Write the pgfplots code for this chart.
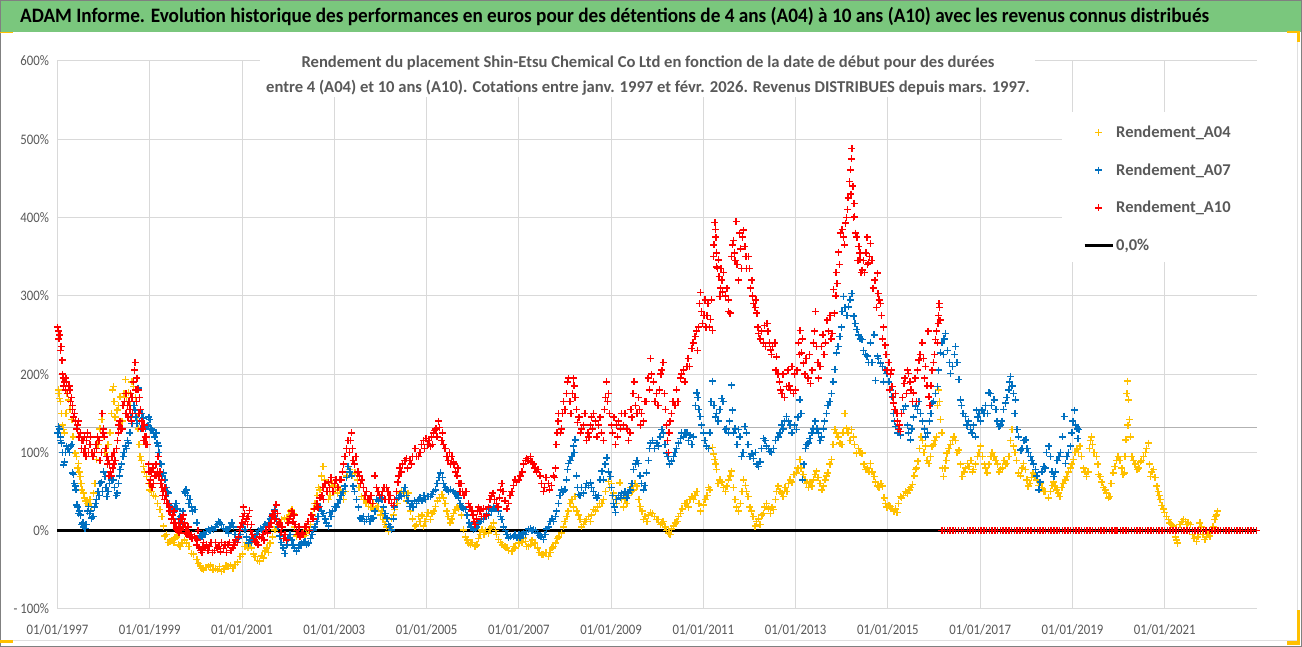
\documentclass[border=0pt]{standalone}
\usepackage{fontspec}
\usepackage{pgfplots}
\pgfplotsset{compat=1.18}
\setmainfont{Carlito}
\definecolor{bandgreen}{RGB}{122,199,125}
\definecolor{cA04}{RGB}{255,192,0}
\definecolor{cA07}{RGB}{0,112,192}
\definecolor{cA10}{RGB}{255,0,0}
\definecolor{txtgray}{RGB}{89,89,89}
\definecolor{gridgray}{RGB}{217,217,217}
\newcommand\tl[1]{\scalebox{.88}[1]{#1}}

\begin{document}
\begin{tikzpicture}[x=1pt,y=1pt]
\useasboundingbox (0,0) rectangle (1302,647);
\fill[white] (0,0) rectangle (1302,647);
% bandeau du titre
\fill[bandgreen] (0,615) rectangle (1302,646);
\draw[gray,line width=1pt] (0.5,0.5) rectangle (1301.5,646.5);
\draw[gray!25,line width=1pt] (0,6.5) -- (1297,6.5) -- (1297,615);
\fill[cA04] (0,614) rectangle (13,615);
\fill[cA04] (1287,614) rectangle (1300,616);
\fill[cA04] (1297,605) rectangle (1300,615);
\fill[cA04] (1287,2) rectangle (1300,6);
\fill[cA04] (1297,2) rectangle (1300,37);
\fill[cA04] (0,4) rectangle (13,7);
\node[anchor=west,inner sep=0pt,font=\fontsize{20.5}{24}\selectfont\bfseries] at (20,630.5)
  {\scalebox{.938}[1]{ADAM Informe. Evolution historique des performances en euros pour des détentions de 4 ans (A04) à 10 ans (A10) avec les revenus connus distribués}};

\begin{axis}[
  at={(57.5pt,38pt)}, anchor=south west,
  scale only axis, width=1199.5pt, height=548pt,
  xmin=1997, xmax=2023, ymin=-100, ymax=600,
  clip=false,
  axis x line*=bottom, axis y line*=left,
  axis line style={gridgray,line width=1pt,-},
  grid=major, grid style={gridgray,line width=1pt},
  major tick length=0pt,
  xtick={1997,1999,...,2021},
  xticklabels={\tl{01/01/1997},\tl{01/01/1999},\tl{01/01/2001},\tl{01/01/2003},\tl{01/01/2005},\tl{01/01/2007},\tl{01/01/2009},\tl{01/01/2011},\tl{01/01/2013},\tl{01/01/2015},\tl{01/01/2017},\tl{01/01/2019},\tl{01/01/2021}},
  ytick={-100,0,100,200,300,400,500,600},
  yticklabels={\tl{- 100\%},\tl{0\%},\tl{100\%},\tl{200\%},\tl{300\%},\tl{400\%},\tl{500\%},\tl{600\%}},
  tick label style={font=\fontsize{14.5}{16}\selectfont,text=txtgray},
  xticklabel style={yshift=-12pt},
  yticklabel style={xshift=-5pt},
  legend style={at={(axis cs:2019.23,520)},anchor=north west,draw=none,fill=none,
    font=\fontsize{16.5}{18}\selectfont\bfseries,text=txtgray,row sep=20.7pt,inner sep=0pt},
  legend cell align=left,
  legend image code/.code={\draw[mark repeat=2,mark phase=2,#1] plot coordinates {(0pt,0pt)(14pt,0pt)(28pt,0pt)};},
  only marks,
]
% caches blancs du sous-titre et de la legende
\fill[white] (axis cs:2001.39,554.3) rectangle (axis cs:2018.19,620);
\fill[white] (axis cs:2018.77,343.6) rectangle (axis cs:2023.1,535);
\node[align=center,text=txtgray,font=\fontsize{16.6}{25}\selectfont\bfseries] at (axis cs:2009.8,582)
  {Rendement du placement Shin-Etsu Chemical Co Ltd en fonction de la date de début pour des durées\\
   entre 4 (A04) et 10 ans (A10). Cotations entre janv. 1997 et févr. 2026. Revenus DISTRIBUES depuis mars. 1997.};

\addplot[forget plot,no marks,draw=gray!60,line width=1pt,sharp plot] coordinates {(1997,131.5)(2023,131.5)};
\addplot[forget plot,no marks,draw=black,line width=3pt,sharp plot] coordinates {(1997,0)(2023,0)};

\addplot[only marks,mark=+,color=cA04,mark size=3.5pt,line width=1.5pt,mark options={draw=cA04,fill=cA04}] coordinates {
(1997.02,180)(1997.04,169)(1997.13,129)(1997.24,167)(1997.31,142)(1997.38,99)(1997.45,86)(1997.49,69)(1997.56,48)(1997.64,35)
(1997.74,31)(1997.78,48)(1997.85,91)(1997.96,142)(1998.07,95)(1998.14,125)(1998.21,184)(1998.29,154)(1998.36,171)(1998.47,193)
(1998.54,176)(1998.65,184)(1998.72,146)(1998.79,95)(1998.86,82)(1998.93,69)(1999.00,52)(1999.12,44)(1999.22,27)(1999.30,6)
(1999.33,-7)(1999.44,-14)(1999.55,-9)(1999.66,-20)(1999.80,-16)(1999.91,-29)(2000.02,-37)(2000.13,-48)(2000.27,-46)(2000.42,-48)
(2000.56,-52)(2000.70,-46)(2000.85,-43)(2000.96,-33)(2001.06,-20)(2001.17,-16)(2001.28,-33)(2001.38,-39)(2001.50,-26)(2001.61,-16)
(2001.71,1)(2001.86,14)(2001.97,14)(2002.08,27)(2002.18,-7)(2002.29,-5)(2002.44,1)(2002.58,35)(2002.69,52)(2002.76,82)
(2002.87,40)(2002.98,57)(2003.12,52)(2003.20,40)(2003.30,82)(2003.45,74)(2003.59,44)(2003.74,31)(2003.95,31)(2004.06,14)
(2004.17,-1)(2004.31,27)(2004.42,48)(2004.60,48)(2004.75,6)(2004.82,18)(2004.93,6)(2005.03,23)(2005.08,14)(2005.19,31)
(2005.33,46)(2005.40,35)(2005.51,10)(2005.62,27)(2005.73,31)(2005.80,1)(2005.91,-16)(2006.05,-20)(2006.20,1)(2006.34,-3)
(2006.45,10)(2006.56,-11)(2006.70,-20)(2006.85,-26)(2007.00,-16)(2007.10,-9)(2007.21,-20)(2007.35,-16)(2007.50,-31)(2007.64,-33)
(2007.79,-16)(2007.93,-3)(2008.04,18)(2008.11,35)(2008.22,44)(2008.33,14)(2008.47,14)(2008.62,27)(2008.80,35)(2008.94,63)
(2009.05,48)(2009.19,61)(2009.34,35)(2009.48,52)(2009.56,57)(2009.63,31)(2009.70,14)(2009.85,23)(2009.99,14)(2010.13,12)
(2010.24,-3)(2010.35,6)(2010.46,18)(2010.60,35)(2010.75,44)(2010.86,50)(2011.00,33)(2011.14,52)(2011.20,106)(2011.25,91)
(2011.29,78)(2011.36,65)(2011.51,57)(2011.61,76)(2011.76,25)(2011.87,65)(2011.97,44)(2012.08,18)(2012.12,6)(2012.23,8)
(2012.37,35)(2012.52,27)(2012.62,57)(2012.73,44)(2012.88,65)(2013.02,74)(2013.09,91)(2013.20,65)(2013.35,57)(2013.45,76)
(2013.60,57)(2013.70,74)(2013.78,91)(2013.85,129)(2013.96,112)(2014.07,150)(2014.10,131)(2014.21,129)(2014.32,99)(2014.44,99)
(2014.52,78)(2014.62,86)(2014.70,69)(2014.77,57)(2014.88,57)(2014.95,35)(2015.06,31)(2015.20,23)(2015.27,44)(2015.42,48)
(2015.53,59)(2015.60,78)(2015.65,89)(2015.72,120)(2015.82,108)(2015.89,86)(2015.96,108)(2016.05,120)(2016.10,180)(2016.14,142)
(2016.21,69)(2016.28,99)(2016.43,120)(2016.54,103)(2016.61,69)(2016.72,86)(2016.86,78)(2017.01,108)(2017.15,74)(2017.30,95)
(2017.44,78)(2017.58,86)(2017.69,129)(2017.72,108)(2017.83,74)(2017.94,86)(2018.04,57)(2018.15,74)(2018.30,61)(2018.48,42)
(2018.62,57)(2018.73,44)(2018.88,69)(2019.02,91)(2019.16,108)(2019.30,69)(2019.41,120)(2019.52,95)(2019.60,69)(2019.74,48)
(2019.81,44)(2019.88,74)(2019.99,95)(2020.13,74)(2020.16,116)(2020.19,191)(2020.22,167)(2020.24,142)(2020.29,95)(2020.40,78)
(2020.54,95)(2020.65,112)(2020.69,69)(2020.76,78)(2020.83,57)(2020.90,40)(2021.00,23)(2021.08,14)(2021.19,6)(2021.28,-16)
(2021.37,12)(2021.51,10)(2021.69,-14)(2021.76,10)(2021.87,-11)(2021.98,-7)(2022.09,14)(2022.14,25)
(1997.03,175)(1997.06,165)(1997.09,150)(1997.11,135)(1997.15,125)(1997.18,150)(1997.21,175)(1997.27,155)(1997.34,120)(1997.41,95)(1997.43,80)(1997.47,75)(1997.51,60)(1997.53,52)(1997.59,42)(1997.61,38)(1997.67,33)(1997.70,40)(1997.81,60)(1997.88,110)(1997.92,130)(1998.00,120)(1998.03,100)(1998.10,110)(1998.17,150)(1998.19,180)(1998.23,165)(1998.25,145)(1998.32,160)(1998.40,140)(1998.44,175)(1998.50,170)(1998.58,160)(1998.61,190)(1998.69,170)(1998.75,130)(1998.77,110)(1998.82,90)(1998.89,75)(1998.97,60)(1999.04,50)(1999.08,45)(1999.17,35)(1999.26,18)(1999.36,-5)(1999.40,-15)(1999.48,-12)(1999.52,-15)(1999.59,-8)(1999.62,-18)(1999.70,-15)(1999.75,-12)(1999.85,-20)(1999.95,-30)(2000.05,-42)(2000.09,-45)(2000.17,-50)(2000.22,-47)(2000.32,-44)(2000.37,-50)(2000.47,-50)(2000.51,-46)(2000.61,-49)(2000.65,-45)(2000.75,-44)(2000.80,-48)(2000.90,-40)(2001.01,-30)(2001.10,-15)(2001.13,-22)(2001.21,-22)(2001.25,-30)(2001.33,-38)(2001.43,-32)(2001.46,-35)(2001.54,-22)(2001.57,-28)(2001.66,-8)(2001.75,5)(2001.80,12)(2001.92,16)
(2002.02,20)(2002.05,25)(2002.11,22)(2002.14,5)(2002.22,-3)(2002.25,-8)(2002.33,-2)(2002.37,-6)(2002.40,-3)(2002.48,8)(2002.52,20)(2002.55,28)(2002.63,45)(2002.66,55)(2002.72,70)(2002.79,65)(2002.83,50)(2002.91,45)(2002.95,60)(2003.03,55)(2003.07,48)(2003.16,48)(2003.24,50)(2003.27,70)(2003.34,78)(2003.38,70)(2003.50,65)(2003.54,55)(2003.64,40)(2003.69,35)(2003.80,30)(2003.85,35)(2003.90,28)(2004.00,20)(2004.03,25)(2004.10,8)(2004.13,5)(2004.20,3)(2004.24,15)(2004.28,20)(2004.36,35)(2004.39,42)(2004.46,50)(2004.52,45)(2004.56,38)(2004.65,25)(2004.70,15)(2004.78,8)(2004.86,12)(2004.90,20)(2004.97,12)(2005.00,18)
(2005.12,22)(2005.16,25)(2005.24,38)(2005.28,42)(2005.37,42)(2005.44,25)(2005.47,18)(2005.55,15)(2005.58,22)(2005.66,30)(2005.69,28)(2005.76,20)(2005.84,-8)(2005.88,-12)(2005.95,-18)(2005.99,-15)(2006.09,-18)(2006.13,-10)(2006.16,-5)(2006.24,-5)(2006.28,0)(2006.38,3)(2006.41,5)(2006.49,0)(2006.52,-5)(2006.60,-15)(2006.64,-18)(2006.74,-22)(2006.78,-25)(2006.89,-20)(2006.93,-22)(2007.04,-12)(2007.07,-15)(2007.14,-14)(2007.17,-20)(2007.25,-18)(2007.29,-12)(2007.40,-22)(2007.44,-28)(2007.54,-30)(2007.59,-28)(2007.68,-28)(2007.72,-22)(2007.75,-20)(2007.83,-10)(2007.87,-8)(2007.97,5)(2008.00,12)(2008.07,25)(2008.15,40)(2008.18,30)(2008.26,25)(2008.29,20)(2008.36,5)(2008.40,8)(2008.43,12)(2008.51,18)(2008.55,12)(2008.58,20)(2008.66,25)(2008.70,30)(2008.75,35)(2008.84,40)(2008.88,50)(2008.97,55)(2009.01,60)(2009.09,40)(2009.12,35)(2009.16,45)(2009.23,40)(2009.27,30)(2009.30,40)(2009.38,45)(2009.42,55)(2009.45,50)(2009.52,60)(2009.60,40)(2009.67,25)(2009.74,18)(2009.78,12)(2009.81,20)(2009.90,22)(2009.94,18)(2010.03,14)(2010.07,8)(2010.10,10)(2010.17,5)(2010.20,0)(2010.28,-5)(2010.31,2)(2010.39,10)(2010.43,12)(2010.50,22)(2010.54,28)(2010.64,35)(2010.68,30)(2010.71,40)(2010.79,40)(2010.82,45)(2010.90,35)(2010.94,25)
(2011.04,40)(2011.08,45)(2011.11,55)(2011.22,98)(2011.27,85)(2011.32,60)(2011.40,62)(2011.44,55)(2011.48,50)(2011.55,65)(2011.58,70)(2011.65,55)(2011.69,40)(2011.72,30)(2011.80,35)(2011.84,50)(2011.91,58)(2011.94,50)(2012.01,30)(2012.04,25)(2012.15,12)(2012.19,15)(2012.27,20)(2012.30,22)(2012.33,30)(2012.41,28)(2012.45,22)(2012.49,30)(2012.56,40)(2012.59,50)(2012.66,50)(2012.70,48)(2012.77,55)(2012.81,50)(2012.85,60)(2012.92,62)(2012.96,72)(2013.05,80)(2013.12,80)(2013.16,72)(2013.24,60)(2013.28,55)(2013.31,62)(2013.39,65)(2013.42,72)(2013.49,68)(2013.53,60)(2013.57,52)(2013.64,65)(2013.67,70)(2013.74,85)(2013.81,110)(2013.89,125)(2013.92,120)(2014.00,110)(2014.03,125)(2014.14,125)(2014.18,115)(2014.25,120)(2014.28,110)(2014.36,105)(2014.40,100)(2014.48,85)(2014.56,80)(2014.59,75)(2014.66,75)(2014.73,62)(2014.81,55)(2014.85,60)(2014.92,42)(2014.98,30)(2015.02,32)(2015.09,28)(2015.13,25)(2015.17,28)(2015.23,35)(2015.30,42)(2015.34,45)(2015.38,50)(2015.46,52)(2015.50,55)(2015.57,70)(2015.62,80)(2015.68,105)(2015.75,115)(2015.78,100)(2015.85,90)(2015.92,95)(2015.99,110)(2016.02,115)(2016.08,160)(2016.12,165)(2016.17,125)(2016.18,80)(2016.24,80)(2016.26,90)(2016.32,105)(2016.36,110)(2016.40,115)(2016.47,115)(2016.50,100)(2016.57,85)(2016.65,75)(2016.68,80)(2016.76,82)(2016.80,90)(2016.83,75)(2016.90,85)(2016.94,95)(2016.98,100)
(2017.05,95)(2017.09,85)(2017.12,80)(2017.19,85)(2017.23,95)(2017.26,100)(2017.34,90)(2017.38,85)(2017.41,75)(2017.48,80)(2017.52,90)(2017.55,85)(2017.62,95)(2017.66,115)(2017.75,100)(2017.79,90)(2017.87,70)(2017.91,80)(2017.98,78)(2018.01,65)(2018.08,60)(2018.11,68)(2018.19,70)(2018.23,65)(2018.27,58)(2018.34,55)(2018.38,50)(2018.42,50)(2018.52,50)(2018.56,58)(2018.59,62)(2018.66,52)(2018.69,48)(2018.77,55)(2018.80,60)(2018.84,65)(2018.92,75)(2018.96,80)(2018.99,85)(2019.06,100)(2019.10,105)(2019.13,100)(2019.20,95)(2019.24,80)(2019.27,75)(2019.34,75)(2019.37,105)(2019.39,115)(2019.44,110)(2019.47,100)(2019.55,85)(2019.57,72)(2019.64,62)(2019.67,55)(2019.71,52)(2019.78,42)(2019.84,60)(2019.92,82)(2019.96,90)(2020.03,90)(2020.07,80)(2020.10,72)(2020.14,95)(2020.18,175)(2020.20,135)(2020.26,120)(2020.32,90)(2020.36,85)(2020.44,80)(2020.47,88)(2020.50,90)(2020.58,100)(2020.61,105)(2020.67,85)(2020.72,75)(2020.79,68)(2020.86,50)(2020.88,45)(2020.94,32)(2020.97,28)(2021.04,18)(2021.11,10)(2021.15,8)(2021.23,-8)(2021.26,-12)(2021.33,8)(2021.41,14)(2021.45,12)(2021.48,8)(2021.56,8)(2021.60,-5)(2021.64,-10)(2021.72,-8)(2021.80,5)(2021.83,-5)(2021.91,-8)(2021.94,-3)(2022.02,0)(2022.05,5)(2022.11,18)(2022.12,20)
};
\addlegendentry{Rendement\_A04}

\addplot[only marks,mark=+,color=cA07,mark size=3.5pt,line width=1.5pt,mark options={draw=cA07,fill=cA07}] coordinates {
(1997.04,130)(1997.09,112)(1997.13,84)(1997.20,108)(1997.31,110)(1997.33,74)(1997.38,57)(1997.42,33)(1997.48,25)(1997.53,8)
(1997.60,3)(1997.67,31)(1997.74,16)(1997.85,40)(1997.92,60)(1998.03,69)(1998.07,44)(1998.18,65)(1998.29,48)(1998.36,78)
(1998.47,108)(1998.54,112)(1998.61,137)(1998.68,154)(1998.72,137)(1998.75,182)(1998.86,144)(1998.93,133)(1999.00,142)(1999.08,125)
(1999.19,108)(1999.22,86)(1999.30,74)(1999.40,48)(1999.51,23)(1999.58,35)(1999.69,12)(1999.79,52)(1999.87,40)(1999.98,27)
(2000.09,-7)(2000.23,-1)(2000.38,1)(2000.52,10)(2000.67,1)(2000.78,10)(2000.88,-11)(2001.06,1)(2001.14,-16)(2001.28,-7)
(2001.43,1)(2001.53,6)(2001.64,18)(2001.71,27)(2001.82,-7)(2001.93,-29)(2002.04,-5)(2002.18,-26)(2002.29,-16)(2002.44,-16)
(2002.55,1)(2002.62,12)(2002.69,31)(2002.87,6)(2002.90,23)(2003.01,31)(2003.12,40)(2003.23,57)(2003.30,82)(2003.41,57)
(2003.48,40)(2003.56,16)(2003.70,14)(2003.84,16)(2003.92,40)(2004.03,40)(2004.14,16)(2004.24,1)(2004.35,40)(2004.46,44)
(2004.53,55)(2004.64,31)(2004.78,35)(2005.03,44)(2005.08,44)(2005.19,52)(2005.30,74)(2005.40,55)(2005.62,48)(2005.73,35)
(2005.84,27)(2006.02,1)(2006.23,14)(2006.41,25)(2006.52,31)(2006.63,14)(2006.78,-9)(2006.88,-7)(2007.03,-9)(2007.17,-1)
(2007.32,1)(2007.53,-11)(2007.68,12)(2007.79,18)(2007.86,35)(2007.93,52)(2008.00,52)(2008.08,86)(2008.15,95)(2008.18,108)
(2008.22,116)(2008.29,46)(2008.40,48)(2008.55,61)(2008.69,42)(2008.80,76)(2008.91,93)(2008.98,69)(2009.05,35)(2009.09,23)
(2009.23,48)(2009.38,48)(2009.49,78)(2009.59,86)(2009.70,52)(2009.77,74)(2009.85,112)(2009.99,112)(2010.10,129)(2010.20,99)
(2010.31,89)(2010.46,112)(2010.60,125)(2010.75,110)(2010.86,176)(2010.93,146)(2011.00,125)(2011.07,108)(2011.20,191)(2011.29,150)
(2011.40,169)(2011.47,129)(2011.61,186)(2011.63,154)(2011.76,129)(2011.83,95)(2011.90,133)(2012.01,95)(2012.19,82)(2012.30,118)
(2012.44,101)(2012.62,120)(2012.80,146)(2013.02,129)(2013.09,167)(2013.15,65)(2013.27,112)(2013.42,140)(2013.56,120)(2013.67,150)
(2013.74,165)(2013.85,206)(2013.89,227)(2013.96,248)(2014.04,299)(2014.15,286)(2014.22,303)(2014.26,274)(2014.33,257)(2014.44,244)
(2014.55,223)(2014.70,250)(2014.73,192)(2014.77,223)(2014.84,214)(2014.98,201)(2015.09,171)(2015.17,133)(2015.27,122)(2015.38,159)
(2015.49,116)(2015.60,159)(2015.71,150)(2015.82,120)(2015.96,163)(2016.07,184)(2016.14,227)(2016.25,252)(2016.36,201)(2016.47,235)
(2016.54,193)(2016.57,167)(2016.68,146)(2016.79,129)(2016.90,120)(2016.92,154)(2017.04,154)(2017.19,176)(2017.30,167)(2017.41,133)
(2017.55,163)(2017.66,197)(2017.77,167)(2017.80,129)(2017.88,103)(2017.99,116)(2018.09,95)(2018.20,78)(2018.27,52)(2018.38,82)
(2018.49,108)(2018.60,69)(2018.71,95)(2018.82,146)(2018.85,86)(2018.96,108)(2019.04,154)(2019.14,129)
(1997.01,125)(1997.02,133)(1997.06,120)(1997.07,115)(1997.11,100)(1997.15,88)(1997.17,100)(1997.23,105)(1997.26,100)(1997.28,108)(1997.35,72)(1997.36,60)(1997.40,52)(1997.44,30)(1997.46,22)(1997.50,20)(1997.55,10)(1997.57,5)(1997.62,8)(1997.65,25)(1997.69,22)(1997.72,25)(1997.77,18)(1997.80,30)(1997.83,35)(1997.88,50)(1997.90,45)(1997.95,62)(1997.98,50)(1998.00,75)(1998.05,55)(1998.10,50)(1998.13,60)(1998.15,70)(1998.21,65)(1998.24,55)(1998.27,45)(1998.32,60)(1998.34,70)(1998.39,85)(1998.42,95)(1998.44,100)(1998.50,105)(1998.52,115)(1998.57,125)(1998.59,145)(1998.63,150)(1998.66,160)(1998.70,145)(1998.78,140)(1998.81,130)(1998.83,150)(1998.89,135)(1998.91,130)(1998.96,135)(1998.98,145)(1999.03,130)(1999.05,128)(1999.11,120)(1999.14,125)(1999.16,112)(1999.20,100)(1999.25,85)(1999.27,70)(1999.33,65)(1999.36,55)(1999.38,50)(1999.43,35)(1999.46,30)(1999.49,28)(1999.54,30)(1999.56,35)(1999.60,28)(1999.63,15)(1999.66,18)(1999.72,25)(1999.75,50)(1999.77,48)(1999.82,45)(1999.85,35)(1999.90,30)(1999.93,25)
(2000.02,10)(2000.05,0)(2000.13,-8)(2000.17,-3)(2000.20,-5)(2000.27,2)(2000.31,0)(2000.34,3)(2000.42,5)(2000.46,8)(2000.49,12)(2000.56,8)(2000.60,3)(2000.64,2)(2000.71,-3)(2000.74,5)(2000.82,5)(2000.85,-5)(2000.92,-10)(2000.96,-5)(2001.01,5)(2001.03,8)(2001.10,-8)(2001.17,-12)(2001.21,-15)(2001.25,-10)(2001.32,-5)(2001.36,0)(2001.40,3)(2001.47,5)(2001.50,8)(2001.57,10)(2001.61,15)(2001.67,22)(2001.75,15)(2001.78,5)(2001.85,-15)(2001.89,-22)(2001.97,-18)(2002.00,-10)(2002.08,-12)(2002.11,-18)(2002.14,-22)(2002.22,-22)(2002.26,-18)(2002.33,-15)(2002.37,-14)(2002.40,-18)(2002.48,-10)(2002.52,-5)(2002.58,5)(2002.65,18)(2002.72,25)(2002.76,22)(2002.80,15)(2002.83,10)(2002.93,18)(2002.96,25)(2003.05,30)(2003.08,35)(2003.15,45)(2003.19,50)(2003.26,68)(2003.34,75)(2003.37,70)(2003.44,50)(2003.52,30)(2003.60,15)(2003.63,18)(2003.66,12)(2003.74,18)(2003.77,12)(2003.80,15)(2003.88,25)(2003.96,38)(2004.00,42)(2004.07,30)(2004.10,22)(2004.18,8)(2004.21,5)(2004.28,15)(2004.31,30)(2004.39,42)(2004.42,45)(2004.50,50)(2004.57,45)(2004.60,38)(2004.68,35)(2004.71,30)(2004.74,38)(2004.82,40)(2004.86,42)(2004.90,38)(2004.94,45)(2004.98,40)
(2005.12,46)(2005.15,50)(2005.23,60)(2005.27,68)(2005.34,68)(2005.37,60)(2005.44,52)(2005.48,50)(2005.52,52)(2005.58,50)(2005.66,45)(2005.69,42)(2005.77,30)(2005.80,28)(2005.88,20)(2005.92,10)(2005.96,5)(2006.06,3)(2006.09,5)(2006.12,10)(2006.16,12)(2006.19,15)(2006.27,18)(2006.30,22)(2006.34,20)(2006.38,28)(2006.45,30)(2006.48,28)(2006.56,25)(2006.60,18)(2006.67,5)(2006.71,0)(2006.74,-5)(2006.82,-8)(2006.92,-5)(2006.96,-9)(2007.00,-5)(2007.07,-5)(2007.10,-3)(2007.14,-5)(2007.21,2)(2007.25,3)(2007.29,0)(2007.36,0)(2007.40,-3)(2007.44,-6)(2007.48,-8)(2007.57,-5)(2007.60,2)(2007.64,5)(2007.72,15)(2007.75,12)(2007.82,25)(2007.89,45)(2007.96,50)(2008.03,65)(2008.05,78)(2008.11,90)(2008.20,100)(2008.25,70)(2008.27,55)(2008.33,45)(2008.36,55)(2008.44,55)(2008.47,60)(2008.51,58)(2008.58,55)(2008.62,50)(2008.66,45)(2008.73,45)(2008.76,65)(2008.84,65)(2008.87,85)(2008.94,75)(2009.01,55)(2009.03,45)(2009.07,30)(2009.12,40)(2009.16,45)(2009.20,42)(2009.27,45)(2009.30,50)(2009.34,42)(2009.41,52)(2009.45,60)(2009.53,85)(2009.56,90)(2009.63,70)(2009.66,60)(2009.73,58)(2009.81,90)(2009.83,105)(2009.90,115)(2009.94,105)(2010.03,108)(2010.06,120)(2010.14,125)(2010.17,110)(2010.23,95)(2010.27,85)(2010.35,95)(2010.38,100)(2010.42,105)(2010.50,118)(2010.53,125)(2010.57,120)(2010.64,125)(2010.68,115)(2010.71,122)(2010.79,120)(2010.83,160)(2010.88,170)(2010.90,155)(2010.96,135)
(2011.03,115)(2011.11,105)(2011.14,125)(2011.17,165)(2011.23,160)(2011.26,145)(2011.32,140)(2011.36,155)(2011.43,165)(2011.50,130)(2011.54,125)(2011.57,140)(2011.65,125)(2011.69,130)(2011.73,110)(2011.79,120)(2011.86,100)(2011.93,125)(2011.97,110)(2012.05,98)(2012.09,92)(2012.13,100)(2012.16,85)(2012.23,88)(2012.26,105)(2012.34,115)(2012.37,108)(2012.41,105)(2012.48,100)(2012.52,105)(2012.56,115)(2012.66,125)(2012.70,135)(2012.73,130)(2012.76,140)(2012.84,140)(2012.88,135)(2012.92,125)(2012.97,135)(2013.05,145)(2013.12,150)(2013.18,85)(2013.21,105)(2013.24,110)(2013.31,118)(2013.35,125)(2013.38,130)(2013.46,130)(2013.50,125)(2013.53,115)(2013.60,130)(2013.63,140)(2013.70,160)(2013.78,175)(2013.81,190)(2013.92,235)(2013.99,260)(2014.01,280)(2014.07,285)(2014.11,275)(2014.18,295)(2014.29,265)(2014.36,250)(2014.40,245)(2014.47,230)(2014.51,225)(2014.58,215)(2014.62,240)(2014.66,215)(2014.80,220)(2014.88,210)(2014.91,190)(2014.94,205)(2015.02,190)(2015.05,180)(2015.12,150)(2015.14,140)(2015.21,125)(2015.24,130)(2015.30,150)(2015.34,155)(2015.42,135)(2015.45,125)(2015.52,130)(2015.56,145)(2015.64,155)(2015.67,165)(2015.75,140)(2015.79,130)(2015.86,125)(2015.90,140)(2015.93,150)(2015.99,165)(2016.03,175)(2016.10,205)(2016.17,240)(2016.20,225)(2016.22,245)(2016.29,230)(2016.33,215)(2016.40,210)(2016.44,225)(2016.50,215)(2016.60,160)(2016.63,150)(2016.71,135)(2016.75,140)(2016.82,125)(2016.86,135)(2016.95,145)(2016.98,150)
(2017.01,140)(2017.08,150)(2017.12,160)(2017.16,150)(2017.22,175)(2017.25,160)(2017.34,155)(2017.37,140)(2017.44,135)(2017.47,140)(2017.51,155)(2017.58,170)(2017.62,180)(2017.64,190)(2017.69,185)(2017.72,175)(2017.75,150)(2017.83,120)(2017.91,105)(2017.95,115)(2018.02,105)(2018.05,100)(2018.12,90)(2018.16,85)(2018.23,70)(2018.30,62)(2018.34,75)(2018.41,80)(2018.44,100)(2018.52,95)(2018.56,75)(2018.63,75)(2018.67,90)(2018.74,100)(2018.78,120)(2018.88,95)(2018.92,100)(2018.99,125)(2019.01,140)(2019.07,135)(2019.10,130)(2019.12,118)
};
\addlegendentry{Rendement\_A07}

\addplot[only marks,mark=+,color=cA10,mark size=3.5pt,line width=1.5pt,mark options={draw=cA10,fill=cA10}] coordinates {
(1997.00,260)(1997.05,250)(1997.08,235)(1997.10,218)(1997.11,200)(1997.15,190)(1997.20,190)(1997.25,185)(1997.30,170)(1997.33,160)
(1997.37,150)(1997.42,130)(1997.45,140)(1997.50,125)(1997.55,115)(1997.60,105)(1997.65,125)(1997.70,110)(1997.80,100)(1997.90,115)
(1997.95,100)(1997.97,150)(1998.00,130)(1998.05,105)(1998.10,90)(1998.15,75)(1998.20,80)(1998.25,90)(1998.28,105)(1998.30,115)
(1998.33,135)(1998.40,130)(1998.45,165)(1998.50,150)(1998.55,165)(1998.60,140)(1998.65,190)(1998.68,215)(1998.72,195)(1998.75,180)
(1998.80,155)(1998.85,130)(1998.90,120)(1998.95,110)(1998.98,75)(1999.00,60)(1999.05,55)(1999.10,70)(1999.15,85)(1999.20,70)
(1999.25,65)(1999.30,50)(1999.35,45)(1999.40,35)(1999.45,25)(1999.50,20)(1999.55,10)(1999.60,0)(1999.65,5)(1999.70,15)
(1999.75,10)(1999.80,0)(1999.85,-3)(1999.90,-5)(2000.00,-10)(2000.05,0)(2000.10,-25)(2000.20,-22)(2000.30,-20)(2000.40,-25)
(2000.50,-20)(2000.60,-23)(2000.70,-18)(2000.80,-22)(2000.90,-15)(2000.95,0)(2001.00,10)(2001.03,30)(2001.10,15)(2001.16,26)
(2001.22,-5)(2001.32,-15)(2001.42,-10)(2001.52,0)(2001.60,5)(2001.67,20)(2001.74,33)(2001.82,10)(2001.90,-10)(2002.00,10)
(2002.08,25)(2002.18,0)(2002.26,-8)(2002.40,5)(2002.50,20)(2002.62,35)(2002.73,45)(2002.80,60)(2002.90,55)(2003.00,60)
(2003.12,65)(2003.20,85)(2003.30,115)(2003.33,100)(2003.37,125)(2003.41,90)(2003.52,75)(2003.60,65)(2003.67,45)(2003.77,40)
(2003.88,70)(2003.92,55)(2004.02,45)(2004.13,55)(2004.24,35)(2004.35,50)(2004.42,80)(2004.53,90)(2004.64,90)(2004.75,105)
(2004.82,95)(2004.93,115)(2005.03,110)(2005.08,108)(2005.15,125)(2005.20,130)(2005.26,140)(2005.33,115)(2005.37,110)(2005.44,95)
(2005.55,95)(2005.60,85)(2005.66,70)(2005.70,60)(2005.73,50)(2005.84,50)(2005.91,35)(2005.98,25)(2006.05,8)(2006.16,25)
(2006.30,20)(2006.41,45)(2006.52,35)(2006.63,60)(2006.78,35)(2006.92,65)(2007.03,70)(2007.14,90)(2007.25,95)(2007.35,80)
(2007.46,70)(2007.53,50)(2007.64,60)(2007.79,80)(2007.81,110)(2007.83,125)(2007.86,150)(2007.93,130)(2007.97,165)(2008.08,195)
(2008.18,195)(2008.22,170)(2008.29,145)(2008.36,130)(2008.47,115)(2008.55,135)(2008.62,150)(2008.73,135)(2008.83,115)(2008.88,170)
(2008.90,190)(2008.94,175)(2009.01,135)(2009.09,110)(2009.16,140)(2009.30,150)(2009.38,115)(2009.45,145)(2009.50,190)(2009.59,170)
(2009.66,150)(2009.77,165)(2009.85,220)(2009.92,190)(2010.02,160)(2010.13,215)(2010.20,135)(2010.24,100)(2010.28,140)(2010.39,160)
(2010.50,195)(2010.64,210)(2010.75,233)(2010.82,248)(2010.89,260)(2010.92,290)(2010.94,304)(2011.04,295)(2011.06,260)(2011.18,295)
(2011.20,256)(2011.25,394)(2011.27,375)(2011.29,337)(2011.33,346)(2011.36,299)(2011.40,320)(2011.54,295)(2011.58,278)(2011.65,371)
(2011.71,395)(2011.76,320)(2011.87,384)(2011.90,363)(2011.98,350)(2012.05,320)(2012.09,290)(2012.16,278)(2012.20,252)(2012.30,240)
(2012.38,265)(2012.45,231)(2012.59,222)(2012.62,200)(2012.70,175)(2012.80,184)(2012.92,210)(2013.00,180)(2013.10,256)(2013.13,227)
(2013.17,214)(2013.32,188)(2013.43,280)(2013.45,235)(2013.53,210)(2013.68,269)(2013.79,252)(2013.82,308)(2013.84,278)(2013.90,316)
(2013.93,356)(2013.97,380)(2014.08,393)(2014.12,410)(2014.17,446)(2014.19,461)(2014.22,488)(2014.27,418)(2014.28,401)(2014.30,380)
(2014.37,363)(2014.40,346)(2014.44,333)(2014.55,375)(2014.58,342)(2014.62,367)(2014.77,329)(2014.79,303)(2014.84,290)(2014.91,260)
(2014.94,237)(2015.02,215)(2015.06,200)(2015.09,184)(2015.12,163)(2015.20,150)(2015.23,129)(2015.27,127)(2015.35,188)(2015.45,201)
(2015.50,180)(2015.56,176)(2015.67,218)(2015.74,240)(2015.82,210)(2015.89,171)(2015.96,205)(2016.03,244)(2016.07,240)(2016.11,290)
(2016.13,269)
(1997.02,255)(1997.03,245)(1997.06,230)(1997.12,195)(1997.13,185)(1997.17,180)(1997.18,195)(1997.22,175)(1997.27,180)(1997.28,165)(1997.32,155)(1997.35,145)(1997.39,140)(1997.43,135)(1997.47,120)(1997.52,105)(1997.53,115)(1997.57,100)(1997.58,120)(1997.62,95)(1997.63,115)(1997.67,100)(1997.72,120)(1997.75,100)(1997.77,95)(1997.83,110)(1997.85,105)(1997.87,120)(1997.92,90)(1997.99,125)(1998.02,120)(1998.07,95)(1998.08,85)(1998.12,70)(1998.13,85)(1998.17,70)(1998.18,95)(1998.22,85)(1998.23,100)(1998.32,125)(1998.35,140)(1998.37,130)(1998.42,160)(1998.47,150)(1998.48,175)(1998.52,160)(1998.53,145)(1998.57,155)(1998.58,175)(1998.62,170)(1998.63,150)(1998.67,205)(1998.70,180)(1998.71,165)(1998.77,150)(1998.78,170)(1998.82,130)(1998.83,140)(1998.87,115)(1998.88,135)(1998.92,110)(1998.93,120)(1998.97,85)
(1999.02,65)(1999.03,75)(1999.07,80)(1999.08,60)(1999.12,85)(1999.13,70)(1999.17,75)(1999.18,95)(1999.22,75)(1999.23,60)(1999.27,55)(1999.28,45)(1999.32,40)(1999.33,55)(1999.37,35)(1999.42,25)(1999.43,30)(1999.47,15)(1999.52,10)(1999.53,25)(1999.57,2)(1999.58,5)(1999.62,10)(1999.63,-2)(1999.67,15)(1999.68,0)(1999.72,5)(1999.73,20)(1999.77,5)(1999.78,-3)(1999.82,-5)(1999.83,5)(1999.87,-8)(1999.92,-10)(1999.97,-8)(2000.02,-18)(2000.03,-12)(2000.07,-22)(2000.13,-28)(2000.15,-20)(2000.17,-15)(2000.23,-18)(2000.26,-25)(2000.33,-15)(2000.36,-28)(2000.43,-15)(2000.46,-22)(2000.53,-27)(2000.56,-15)(2000.63,-18)(2000.66,-28)(2000.73,-15)(2000.76,-25)(2000.83,-18)(2000.86,-12)(2000.92,-8)(2000.97,5)(2001.02,18)(2001.05,22)(2001.07,12)(2001.12,8)(2001.13,18)(2001.18,0)(2001.20,8)(2001.25,-10)(2001.28,-14)(2001.35,-18)(2001.38,-8)(2001.45,-5)(2001.48,-12)(2001.55,-3)(2001.57,5)(2001.63,10)(2001.65,18)(2001.70,25)(2001.72,15)(2001.77,22)(2001.78,8)(2001.85,-2)(2001.87,5)(2001.93,-5)(2001.96,-12)
(2002.03,15)(2002.05,18)(2002.11,12)(2002.13,20)(2002.15,8)(2002.21,-5)(2002.23,5)(2002.30,-3)(2002.33,-5)(2002.36,5)(2002.43,12)(2002.46,0)(2002.54,15)(2002.57,28)(2002.65,30)(2002.69,42)(2002.76,55)(2002.77,40)(2002.84,50)(2002.87,62)(2002.93,68)(2002.97,50)(2003.04,65)(2003.08,55)(2003.16,65)(2003.18,75)(2003.23,95)(2003.26,105)(2003.35,115)(2003.39,105)(2003.44,85)(2003.47,95)(2003.50,75)(2003.55,70)(2003.57,60)(2003.63,55)(2003.70,50)(2003.73,40)(2003.80,45)(2003.83,35)(2003.95,50)(2003.98,45)(2004.05,50)(2004.08,55)(2004.10,40)(2004.16,50)(2004.19,40)(2004.21,45)(2004.28,32)(2004.31,40)(2004.38,62)(2004.40,70)(2004.45,75)(2004.48,85)(2004.56,92)(2004.59,80)(2004.67,85)(2004.70,95)(2004.78,95)(2004.86,100)(2004.89,110)(2004.96,105)(2004.99,118)
(2005.05,115)(2005.11,120)(2005.13,110)(2005.18,128)(2005.23,120)(2005.28,132)(2005.35,125)(2005.40,105)(2005.47,90)(2005.50,100)(2005.52,85)(2005.58,88)(2005.63,75)(2005.68,80)(2005.75,60)(2005.78,50)(2005.81,45)(2005.87,50)(2005.94,30)(2006.01,20)(2006.03,12)(2006.08,15)(2006.10,25)(2006.13,30)(2006.19,18)(2006.23,28)(2006.26,18)(2006.34,30)(2006.37,40)(2006.44,48)(2006.47,40)(2006.55,30)(2006.58,42)(2006.60,52)(2006.66,50)(2006.70,38)(2006.74,28)(2006.81,45)(2006.85,50)(2006.88,58)(2006.95,62)(2007.00,65)(2007.07,75)(2007.10,85)(2007.17,92)(2007.20,90)(2007.28,88)(2007.31,85)(2007.38,75)(2007.42,78)(2007.49,60)(2007.56,55)(2007.59,68)(2007.67,52)(2007.71,58)(2007.75,70)(2007.77,68)(2007.85,140)(2007.90,125)(2007.95,150)(2008.00,155)(2008.03,175)(2008.06,190)(2008.11,165)(2008.13,150)(2008.16,175)(2008.20,185)(2008.25,155)(2008.27,138)(2008.32,145)(2008.34,125)(2008.40,135)(2008.43,150)(2008.50,125)(2008.52,120)(2008.58,145)(2008.60,130)(2008.66,140)(2008.69,120)(2008.76,145)(2008.79,125)(2008.86,155)(2008.92,165)(2008.97,150)(2009.03,125)(2009.06,145)(2009.12,135)(2009.14,120)(2009.20,130)(2009.22,150)(2009.27,135)(2009.34,130)(2009.41,125)(2009.43,155)(2009.48,175)(2009.53,160)(2009.56,150)(2009.62,155)(2009.64,135)(2009.70,140)(2009.73,165)(2009.80,195)(2009.83,180)(2009.88,200)(2009.95,165)(2009.98,175)(2010.05,180)(2010.08,200)(2010.10,205)(2010.16,175)(2010.18,155)(2010.22,115)(2010.26,125)(2010.31,150)(2010.34,165)(2010.42,180)(2010.45,165)(2010.53,200)(2010.57,205)(2010.60,190)(2010.67,220)(2010.70,210)(2010.78,240)(2010.85,255)(2010.87,230)(2010.96,280)(2010.98,265)
(2011.01,275)(2011.08,275)(2011.10,290)(2011.13,260)(2011.15,270)(2011.22,350)(2011.23,365)(2011.26,385)(2011.28,355)(2011.31,335)(2011.34,325)(2011.37,310)(2011.38,335)(2011.42,305)(2011.44,330)(2011.48,300)(2011.51,310)(2011.55,280)(2011.61,350)(2011.63,365)(2011.67,355)(2011.69,345)(2011.73,340)(2011.78,380)(2011.81,360)(2011.83,335)(2011.85,375)(2011.92,350)(2011.94,335)(2012.00,335)(2012.02,310)(2012.07,300)(2012.12,285)(2012.14,295)(2012.18,260)(2012.23,245)(2012.26,255)(2012.33,262)(2012.35,235)(2012.40,255)(2012.43,240)(2012.48,225)(2012.50,235)(2012.55,240)(2012.57,205)(2012.65,190)(2012.67,180)(2012.73,200)(2012.76,170)(2012.83,205)(2012.86,185)(2012.89,180)(2012.95,175)(2012.97,200)(2013.03,205)(2013.06,240)(2013.08,225)(2013.15,245)(2013.20,200)(2013.23,220)(2013.27,195)(2013.30,225)(2013.36,205)(2013.39,240)(2013.41,255)(2013.48,215)(2013.50,195)(2013.56,235)(2013.59,250)(2013.62,225)(2013.65,240)(2013.71,255)(2013.75,275)(2013.77,245)(2013.87,300)(2013.88,330)(2013.95,340)(2014.01,385)(2014.04,375)(2014.06,365)(2014.10,400)(2014.14,425)(2014.20,430)(2014.21,475)(2014.24,440)(2014.25,400)(2014.33,375)(2014.35,345)(2014.39,355)(2014.42,330)(2014.47,345)(2014.49,330)(2014.52,355)(2014.56,340)(2014.60,350)(2014.65,345)(2014.68,310)(2014.72,320)(2014.75,285)(2014.81,295)(2014.86,275)(2014.88,245)(2014.96,225)(2014.98,205)
(2015.03,180)(2015.08,205)(2015.11,170)(2015.15,155)(2015.17,175)(2015.21,140)(2015.25,135)(2015.30,150)(2015.32,170)(2015.37,195)(2015.40,175)(2015.42,205)(2015.48,190)(2015.53,165)(2015.59,195)(2015.62,165)(2015.64,205)(2015.70,225)(2015.77,220)(2015.79,195)(2015.85,185)(2015.87,255)(2015.91,160)(2015.93,185)(2015.99,215)(2016.01,225)(2016.05,255)(2016.09,265)(2016.10,275)(2016.12,285)
(2016.17,0)(2016.23,0)(2016.29,0)(2016.35,0)(2016.41,0)(2016.47,0)(2016.53,0)(2016.59,0)(2016.64,0)(2016.72,0)
(2016.78,0)(2016.84,0)(2016.90,0)(2016.96,0)(2017.02,0)(2017.08,0)(2017.14,0)(2017.20,0)(2017.26,0)(2017.32,0)
(2017.38,0)(2017.44,0)(2017.50,0)(2017.56,0)(2017.62,0)(2017.68,0)(2017.74,0)(2017.80,0)(2017.86,0)(2017.92,0)
(2017.98,0)(2018.04,0)(2018.10,0)(2018.18,0)(2018.24,0)(2018.30,0)(2018.36,0)(2018.42,0)(2018.48,0)(2018.54,0)
(2018.60,0)(2018.66,0)(2018.72,0)(2018.78,0)(2018.84,0)(2018.90,0)(2018.96,0)(2019.02,0)(2019.08,0)(2019.14,0)
(2019.20,0)(2019.26,0)(2019.32,0)(2019.38,0)(2019.44,0)(2019.50,0)(2019.56,0)(2019.62,0)(2019.68,0)(2019.74,0)
(2019.80,0)(2019.86,0)(2019.92,0)(2019.97,0)(2020.04,0)(2020.10,0)(2020.16,0)(2020.22,0)(2020.28,0)(2020.34,0)
(2020.40,0)(2020.46,0)(2020.52,0)(2020.58,0)(2020.64,0)(2020.70,0)(2020.76,0)(2020.82,0)(2020.88,0)(2020.94,0)
(2021.00,0)(2021.06,0)(2021.12,0)(2021.18,0)(2021.24,0)(2021.30,0)(2021.36,0)(2021.42,0)(2021.48,0)(2021.54,0)
(2021.60,0)(2021.66,0)(2021.72,0)(2021.78,0)(2021.84,0)(2021.89,0)(2021.97,0)(2022.03,0)(2022.09,0)(2022.15,0)
(2022.21,0)(2022.27,0)(2022.33,0)(2022.39,0)(2022.45,0)(2022.51,0)(2022.57,0)(2022.63,0)(2022.69,0)(2022.75,0)
(2022.81,0)(2022.87,0)(2022.93,0)(2022.99,0)
};
\addlegendentry{Rendement\_A10}
\addlegendimage{black,line width=3pt,sharp plot}
\addlegendentry{0,0\%}
\end{axis}
\end{tikzpicture}
\end{document}
